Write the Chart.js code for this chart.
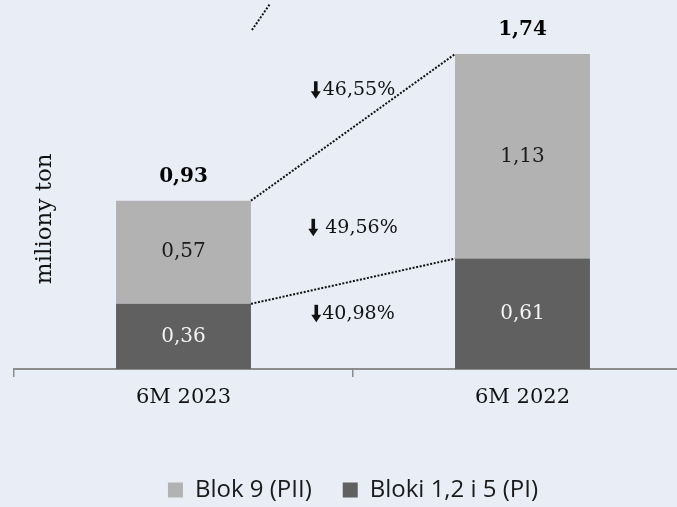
<!DOCTYPE html>
<html lang="pl">
<head>
<meta charset="utf-8">
<title>Produkcja energii</title>
<script src="https://cdn.jsdelivr.net/npm/chart.js@4.4.1/dist/chart.umd.min.js"></script>
<style>
    html, body { margin: 0; padding: 0; background: #e9edf6; overflow: hidden; }
    #wrap { width: 677px; height: 507px; overflow: hidden; }
</style>
</head>
<body>
<div id="wrap"><canvas id="chart" width="713" height="514"></canvas></div>
<script>
const categories = ['6M 2023', '6M 2022'];
const seriesNames = ['Blok 9 (PII)', 'Bloki 1,2 i 5 (PI)'];
const blok9 = [0.57, 1.13];
const bloki125 = [0.36, 0.61];
const totals = [0.93, 1.74];
const changes = ['46,55%', '49,56%', '40,98%'];
const axisTitle = 'miliony ton';

const SERIF = '"DejaVu Serif", serif';
const fmt = v => v.toFixed(2).replace('.', ',');

// spadki: wysokość (w jednostkach osi Y) i odstęp strzałka-tekst
const changeAnchors = [1.54, 0.78, 0.305];
const changeGaps = [2, 7, 1];

function drawArrow(ctx, x, cy) {
    ctx.fillStyle = '#111';
    ctx.fillRect(x + 3.2, cy - 9, 3.6, 11);
    ctx.beginPath();
    ctx.moveTo(x, cy + 1);
    ctx.lineTo(x + 10, cy + 1);
    ctx.lineTo(x + 5, cy + 8.5);
    ctx.closePath();
    ctx.fill();
}

const overlay = {
    id: 'overlay',
    afterDatasetsDraw(chart) {
        const { ctx, scales: { x, y } } = chart;
        const lower = chart.getDatasetMeta(0).data;
        const upper = chart.getDatasetMeta(1).data;
        ctx.save();

        // linie kropkowane między słupkami
        ctx.strokeStyle = '#111';
        ctx.lineWidth = 2;
        ctx.setLineDash([2, 1.6]);
        [lower, upper].forEach(bars => {
            const a = bars[0], b = bars[1];
            ctx.beginPath();
            ctx.moveTo(a.x + a.width / 2, a.y);
            ctx.lineTo(b.x - b.width / 2, b.y);
            ctx.stroke();
        });
        ctx.beginPath();
        ctx.moveTo(x.getPixelForValue(0.202), y.getPixelForValue(1.873));
        ctx.lineTo(x.getPixelForValue(0.255), y.getPixelForValue(2.017));
        ctx.stroke();
        ctx.setLineDash([]);

        // wartości w słupkach
        ctx.textAlign = 'center';
        ctx.textBaseline = 'middle';
        ctx.font = '20px ' + SERIF;
        lower.forEach((bar, i) => {
            ctx.fillStyle = '#f4f4f4';
            ctx.fillText(fmt(bloki125[i]), bar.x, (bar.y + bar.base) / 2);
        });
        upper.forEach((bar, i) => {
            ctx.fillStyle = '#1a1a1a';
            ctx.fillText(fmt(blok9[i]), bar.x, (bar.y + bar.base) / 2);
        });

        // sumy nad słupkami
        ctx.font = 'bold 20px ' + SERIF;
        ctx.fillStyle = '#000';
        upper.forEach((bar, i) => {
            ctx.fillText(fmt(totals[i]), bar.x, bar.y - 24);
        });

        // spadki r/r
        ctx.font = '19px ' + SERIF;
        ctx.textAlign = 'left';
        const cx = x.getPixelForValue(0.5);
        changes.forEach((txt, i) => {
            const w = 10 + changeGaps[i] + ctx.measureText(txt).width;
            const left = cx - w / 2;
            const cy = y.getPixelForValue(changeAnchors[i]);
            drawArrow(ctx, left, cy);
            ctx.fillStyle = '#111';
            ctx.fillText(txt, left + 10 + changeGaps[i], cy);
        });

        // tytuł osi
        ctx.translate(45, y.getPixelForValue(0.83));
        ctx.rotate(-Math.PI / 2);
        ctx.textAlign = 'center';
        ctx.font = '23px ' + SERIF;
        ctx.fillStyle = '#111';
        ctx.fillText(axisTitle, 0, 0);
        ctx.restore();
    }
};

new Chart(document.getElementById('chart'), {
    type: 'bar',
    data: {
        labels: categories,
        datasets: [
            { label: seriesNames[1], data: bloki125, backgroundColor: '#606060', borderWidth: 0 },
            { label: seriesNames[0], data: blok9, backgroundColor: '#b2b2b2', borderWidth: 0 }
        ]
    },
    options: {
        responsive: false,
        animation: false,
        devicePixelRatio: 1,
        layout: { padding: { top: 7, left: 14, right: 21, bottom: 2 } },
        datasets: { bar: { categoryPercentage: 1, barPercentage: 0.398 } },
        scales: {
            x: {
                stacked: true,
                grid: { display: true, drawOnChartArea: false, drawTicks: true, tickLength: 8, color: '#8c8c8c', lineWidth: 1.5 },
                border: { display: true, color: '#8c8c8c', width: 2 },
                ticks: { color: '#111', padding: 8, font: { family: SERIF, size: 21 } },
                afterFit(scale) { scale.height = 78; }
            },
            y: { stacked: true, display: false, min: 0, max: 2 }
        },
        plugins: {
            legend: {
                position: 'bottom',
                reverse: true,
                labels: {
                    color: '#1a1a1a',
                    boxWidth: 15,
                    boxHeight: 15,
                    padding: 31,
                    font: { family: '"Open Sans", sans-serif', size: 24 }
                }
            },
            tooltip: { enabled: false }
        }
    },
    plugins: [overlay]
});
</script>
</body>
</html>
